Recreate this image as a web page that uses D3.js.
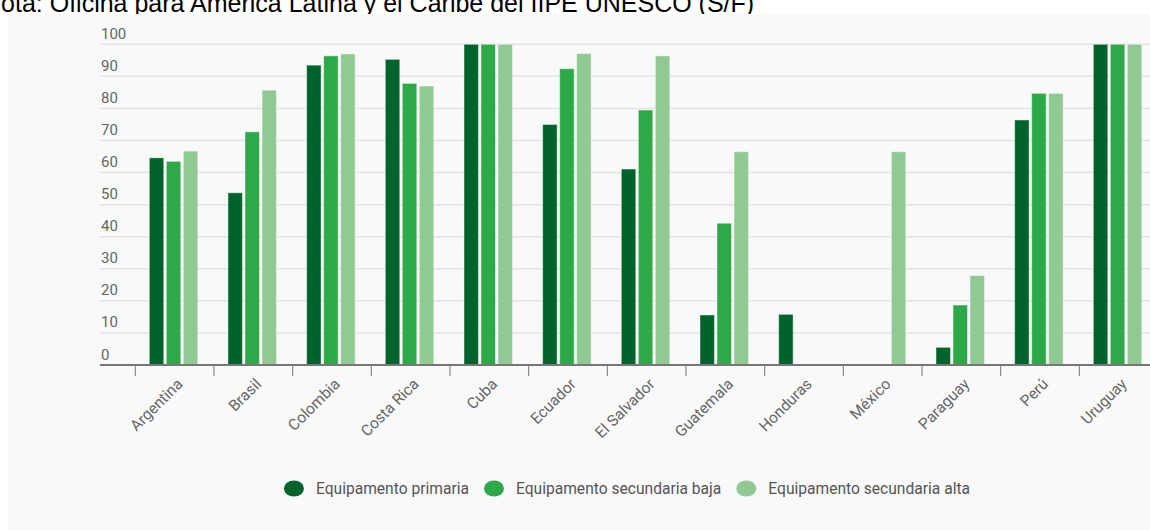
<!DOCTYPE html>
<html>
<head>
<meta charset="utf-8">
<script src="https://cdn.jsdelivr.net/npm/d3@7"></script>
<style>
  body { margin: 0; background: #fff; overflow: hidden; }
  svg { display: block; }
</style>
</head>
<body>
<svg id="chart" width="1150" height="530"></svg>
<script>
// data
var countries = ["Argentina", "Brasil", "Colombia", "Costa Rica", "Cuba", "Ecuador", "El Salvador",
                 "Guatemala", "Honduras", "México", "Paraguay", "Perú", "Uruguay"];
var seriesNames = ["Equipamento primaria", "Equipamento secundaria baja", "Equipamento secundaria alta"];
var primaria       = [64.6, 53.7, 93.5, 95.3, 100, 75.0, 61.1, 15.6, 15.8, 0,    5.5, 76.4, 100];
var secundariaBaja = [63.5, 72.7, 96.4, 87.8, 100, 92.4, 79.5, 44.2, 0,    0,   18.7, 84.7, 100];
var secundariaAlta = [66.7, 85.7, 97.0, 87.0, 100, 97.1, 96.4, 66.5, 0,    66.5, 27.9, 84.7, 100];
var yTicks = [0, 10, 20, 30, 40, 50, 60, 70, 80, 90, 100];
var colors = ["#00632b", "#2ea948", "#91c994"];

var series = [primaria, secundariaBaja, secundariaAlta];

var svg = d3.select("#chart");

// caption, cut off at the top edge like in the source
svg.append("text")
  .attr("x", -17).attr("y", 12)
  .style("font-family", "'Liberation Sans', Arial, sans-serif")
  .style("font-size", "25px")
  .style("fill", "#000")
  .text("Nota: Oficina para América Latina y el Caribe del IIPE UNESCO (S/F)");

// grey panel
svg.append("rect")
  .attr("x", 8).attr("y", 14)
  .attr("width", 1150).attr("height", 530)
  .attr("fill", "#f9f9f9");

var gridLeft = 100, gridRight = 1158;
var x0 = d3.scaleBand().domain(countries).range([135.3, 1158]).padding(0);
var x1 = d3.scaleBand().domain([0, 1, 2]).range([14, 62.5]).paddingInner(0.15);
var y = d3.scaleLinear().domain([0, 100]).range([365, 44.3]);

// gridlines + labels
var grid = svg.append("g");
grid.selectAll("line").data(yTicks).enter().append("line")
  .attr("x1", gridLeft).attr("x2", gridRight)
  .attr("y1", function(d) { return y(d); })
  .attr("y2", function(d) { return y(d); })
  .attr("stroke", "#e4e4e4")
  .attr("stroke-width", 1.5);
grid.selectAll("text").data(yTicks).enter().append("text")
  .attr("x", 101)
  .attr("y", function(d) { return y(d) - 5.5; })
  .style("font-family", "Roboto, sans-serif")
  .style("font-size", "15px")
  .style("fill", "#666")
  .text(function(d) { return d; });

// bars
var groups = svg.append("g").selectAll("g")
  .data(countries).enter().append("g")
  .attr("transform", function(d) { return "translate(" + x0(d) + ",0)"; });

groups.selectAll("rect")
  .data(function(d, i) { return series.map(function(s, k) { return {k: k, v: s[i]}; }); })
  .enter().append("rect")
  .attr("x", function(d) { return x1(d.k); })
  .attr("width", x1.bandwidth())
  .attr("y", function(d) { return y(d.v); })
  .attr("height", function(d) { return y(0) - y(d.v); })
  .attr("fill", function(d) { return colors[d.k]; })
  .attr("stroke", "rgba(255,255,255,0.45)")
  .attr("stroke-width", 1);

// x axis line and ticks at band edges
svg.append("line")
  .attr("x1", gridLeft).attr("x2", gridRight)
  .attr("y1", y(0)).attr("y2", y(0))
  .attr("stroke", "#777").attr("stroke-width", 2);

svg.append("g").selectAll("line")
  .data(countries).enter().append("line")
  .attr("x1", function(d) { return x0(d); })
  .attr("x2", function(d) { return x0(d); })
  .attr("y1", y(0)).attr("y2", y(0) + 11)
  .attr("stroke", "#888").attr("stroke-width", 1.2);

svg.append("g").selectAll("text")
  .data(countries).enter().append("text")
  .attr("transform", function(d) {
    return "translate(" + (x0(d) + x0.bandwidth() / 2 + 9) + "," + 385 + ") rotate(-45)";
  })
  .attr("text-anchor", "end")
  .style("font-family", "Roboto, sans-serif")
  .style("font-size", "15.5px")
  .style("fill", "#666")
  .text(function(d) { return d; });

// legend
var legend = svg.append("g");
var items = legend.selectAll("g").data(seriesNames).enter().append("g");
items.append("ellipse")
  .attr("rx", 10).attr("ry", 8)
  .attr("cx", 0).attr("cy", 0)
  .attr("fill", function(d, i) { return colors[i]; });
items.append("text")
  .attr("x", 22).attr("dy", "0.35em")
  .style("font-family", "Roboto, sans-serif")
  .style("font-size", "15.6px")
  .style("fill", "#555")
  .text(function(d) { return d; });

var pos = 0, offsets = [];
items.each(function() {
  offsets.push(pos);
  var w = d3.select(this).select("text").node().getComputedTextLength();
  pos += 22 + w + 25;
});
var total = pos - 25 + 10;
var startX = 627 - total / 2 + 10;
items.attr("transform", function(d, i) { return "translate(" + (startX + offsets[i]) + ",488.5)"; });
</script>
</body>
</html>
